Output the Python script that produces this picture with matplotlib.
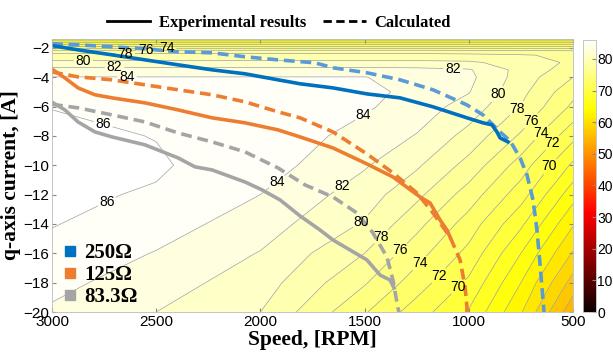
import numpy as np
import matplotlib
matplotlib.use("Agg")
import matplotlib.pyplot as plt
from matplotlib.lines import Line2D
from matplotlib.font_manager import FontProperties
import matplotlib.cm as cm
import matplotlib.colors as mcolors

plt.rcParams['font.family'] = ['Liberation Sans', 'DejaVu Sans']

# efficiency map, rows = q-axis current, cols = speed
map_speed = [3000, 2500, 2000, 1500, 1250, 1000, 750, 500]
map_current = [-1.4, -2, -2.2, -2.5, -3, -3.5, -4, -5, -6, -8, -10, -12, -14, -16, -18, -20]
map_eff = [
    [64.0, 64.0, 64.0, 64.0, 64.0, 64.0, 64.0, 64.0],
    [73.5, 73.5, 73.5, 73.5, 73.5, 73.5, 73.5, 73.5],
    [76.5, 76.5, 76.5, 76.5, 76.5, 76.4, 76.3, 76.0],
    [78.9, 78.9, 78.9, 78.9, 78.9, 78.6, 78.2, 77.5],
    [80.4, 80.4, 80.4, 80.4, 80.4, 80.3, 79.2, 77.6],
    [82.8, 82.8, 82.8, 82.8, 82.6, 82.2, 79.3, 77.0],
    [84.05, 84.05, 84.05, 84.05, 83.3, 82.5, 79.1, 76.0],
    [85.2, 85.0, 85.0, 84.7, 83.3, 82.1, 78.6, 74.6],
    [85.95, 85.6, 85.4, 84.3, 83.0, 81.2, 77.9, 73.6],
    [86.4, 85.95, 85.5, 83.2, 81.9, 79.3, 75.7, 70.6],
    [86.5, 86.2, 85.0, 82.2, 80.3, 77.3, 73.1, 67.6],
    [86.3, 85.85, 84.0, 81.0, 78.5, 75.1, 70.9, 64.8],
    [86.1, 84.9, 83.0, 79.8, 76.6, 73.1, 68.4, 62.2],
    [85.4, 83.9, 81.9, 78.0, 74.8, 71.4, 66.0, 59.8],
    [84.6, 82.9, 81.0, 76.2, 73.0, 69.6, 64.0, 57.2],
    [83.7, 82.0, 80.0, 74.2, 71.0, 67.8, 62.2, 54.5],
]

# experimental (solid) curves
exp250_speed = [3000, 2875, 2712, 2554, 2395, 2232, 2074, 1916, 1810, 1652, 1489, 1330, 1172, 1009, 932, 889, 865, 850, 812]
exp250_iq = [-1.85, -2.14, -2.48, -2.82, -3.16, -3.50, -3.77, -4.18, -4.45, -4.73, -5.14, -5.41, -6.02, -6.77, -7.11, -7.25, -7.73, -8.14, -8.41]
exp125_speed = [3000, 2938, 2875, 2794, 2712, 2554, 2395, 2232, 2074, 1916, 1810, 1652, 1489, 1364, 1234, 1186, 1138, 1105, 1090]
exp125_iq = [-3.45, -4.05, -4.73, -5.20, -5.41, -5.75, -6.23, -6.77, -7.11, -7.59, -8.07, -8.82, -9.91, -10.80, -12.16, -12.57, -13.73, -14.41, -14.89]
exp83_speed = [3000, 2938, 2875, 2794, 2712, 2554, 2395, 2314, 2232, 2074, 1992, 1906, 1810, 1714, 1652, 1489, 1426, 1378, 1359]
exp83_iq = [-5.7, -6.23, -7.05, -7.73, -8.07, -8.61, -9.50, -10.11, -10.32, -11.14, -11.68, -12.36, -13.45, -14.41, -15.09, -16.45, -17.48, -17.82, -18.36]

# calculated (dashed) curves
calc250_speed = [3000, 2875, 2712, 2554, 2395, 2232, 2074, 1916, 1738, 1652, 1489, 1330, 1172, 1009, 932, 850, 802, 754, 721, 692, 673, 658, 639]
calc250_iq = [-1.73, -1.80, -1.93, -2.07, -2.27, -2.34, -2.61, -2.82, -3.02, -3.36, -3.70, -4.18, -4.86, -5.89, -6.57, -7.73, -8.34, -9.5, -10.66, -12.36, -14.41, -16.8, -20.0]
calc125_speed = [3000, 2875, 2712, 2554, 2395, 2232, 2074, 1916, 1810, 1652, 1489, 1364, 1249, 1172, 1090, 1042, 1018, 1009, 1009]
calc125_iq = [-3.65, -3.98, -4.18, -4.52, -4.86, -5.20, -5.68, -6.36, -6.77, -7.73, -9.23, -10.52, -11.89, -13.25, -14.89, -16.45, -18.30, -19.66, -20.0]
calc83_speed = [3000, 2875, 2712, 2554, 2395, 2232, 2074, 1916, 1786, 1652, 1537, 1460, 1393, 1364, 1340, 1335]
calc83_iq = [-5.85, -6.09, -6.57, -7.05, -7.80, -8.41, -9.09, -10.18, -11.34, -12.16, -13.25, -14.61, -16.25, -17.82, -19.73, -20.0]

loads = ['250\u03a9', '125\u03a9', '83.3\u03a9']
solid_colors = ['#0070C0', '#ED7D31', '#A5A5A5']
dash_colors = ['#5B9BD5', '#ED7D31', '#A5A5A5']

# where the contour labels sit
label_spots = [(2850, -3.0), (2700, -3.3), (2640, -4.0), (2650, -2.38), (2550, -2.17),
               (2450, -2.04), (2750, -7.0), (2736, -12.5), (1916, -11.2), (1513, -6.4),
               (1076, -3.9), (850, -5.3), (764, -6.2), (707, -6.9), (659, -7.7),
               (596, -8.5), (620, -10.0), (1604, -11.5), (1513, -13.9), (1417, -14.9),
               (1330, -15.8), (1234, -16.7), (1138, -17.6), (1042, -18.4)]

fig = plt.figure(figsize=(6.13, 3.54), dpi=100)
ax = fig.add_axes([0.0848, 0.1186, 0.85, 0.7712])
cax = fig.add_axes([0.951, 0.1186, 0.0212, 0.7684])

norm = mcolors.Normalize(vmin=0, vmax=86)
levels = np.arange(40, 90, 2)
S, I = np.meshgrid(map_speed, map_current)
E = np.array(map_eff)
ax.contourf(S, I, E, levels=levels, cmap='hot', norm=norm)
cs = ax.contour(S, I, E, levels=levels, colors='#a0a0a0', linewidths=0.5)
txts = ax.clabel(cs, fmt='%d', fontsize=10, colors='k', manual=label_spots, inline=True, inline_spacing=2)
for t in txts:
    t.set_rotation(0)

exp_sets = [(exp250_speed, exp250_iq), (exp125_speed, exp125_iq), (exp83_speed, exp83_iq)]
calc_sets = [(calc250_speed, calc250_iq), (calc125_speed, calc125_iq), (calc83_speed, calc83_iq)]
for k in range(3):
    ax.plot(calc_sets[k][0], calc_sets[k][1], color=dash_colors[k], lw=2.6, dashes=(3, 1.6))
    ax.plot(exp_sets[k][0], exp_sets[k][1], color=solid_colors[k], lw=2.6)

ax.set_xlim(3000, 500)
ax.set_ylim(-20, -1.4)
ax.set_xticks([3000, 2500, 2000, 1500, 1000, 500])
ax.set_yticks(np.arange(-20, -1, 2))
ax.tick_params(direction='in', length=3, labelsize=11, color='#888888', top=True, right=True, pad=2)
for sp in ax.spines.values():
    sp.set_color('#bbbbbb')
    sp.set_linewidth(0.6)

lab_font = FontProperties(family='Liberation Serif', weight='bold', size=15.5)
ax.set_xlabel('Speed, [RPM]', fontproperties=lab_font, labelpad=1)
ax.set_ylabel('q-axis current, [A]', fontproperties=lab_font, labelpad=2)

# load legend in the corner
sq = [Line2D([], [], marker='s', ls='none', color=c, markersize=7) for c in solid_colors]
ax.legend(sq, loads, loc='lower left', frameon=False,
          prop=FontProperties(family='Liberation Serif', weight='bold', size=15),
          handletextpad=0.1, labelspacing=0.08, borderaxespad=0.0, borderpad=0.25,
          handlelength=1.2)

# line style legend on top
style_handles = [Line2D([], [], color='k', lw=2), Line2D([], [], color='k', lw=2, dashes=(3, 1.6))]
fig.legend(style_handles, ['Experimental results', 'Calculated'], loc='upper center',
           bbox_to_anchor=(0.455, 1.0), ncol=2, frameon=False,
           prop=FontProperties(family='Liberation Serif', weight='bold', size=12),
           handlelength=2.6, columnspacing=1.0, handletextpad=0.5)

cb = fig.colorbar(cm.ScalarMappable(norm=norm, cmap='hot'), cax=cax)
cb.set_ticks(np.arange(0, 81, 10))
cb.ax.tick_params(direction='in', length=3, labelsize=10, color='#888888', pad=1)
cb.outline.set_edgecolor('#bbbbbb')
cb.outline.set_linewidth(0.6)

fig.savefig('out.png', dpi=100)
